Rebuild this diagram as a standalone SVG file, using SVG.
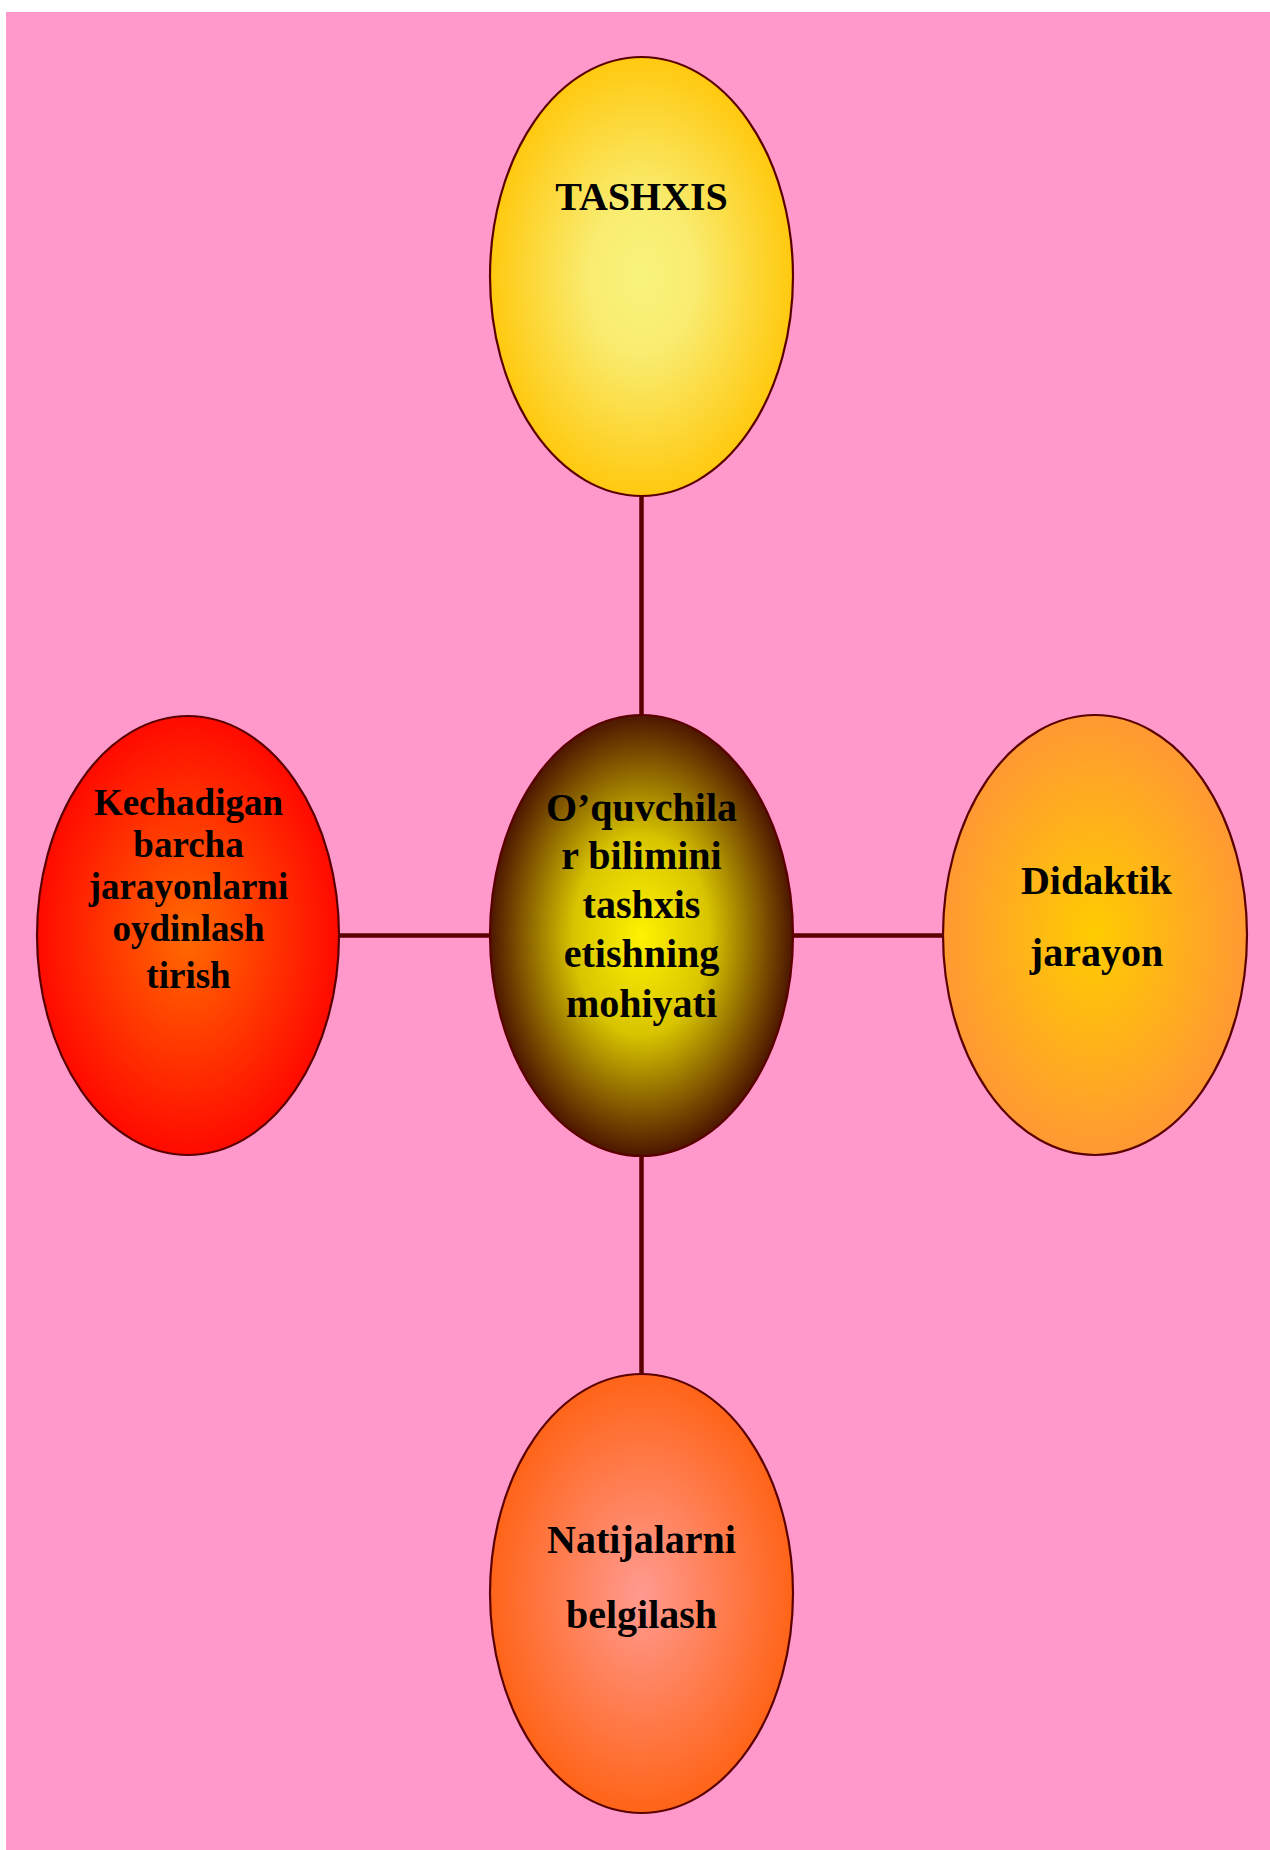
<svg xmlns="http://www.w3.org/2000/svg" width="1270" height="1850" viewBox="0 0 1270 1850">
<style>
.node{stroke:#5a0000;stroke-width:2.2}
.conn{stroke:#5a0000;stroke-width:4.5;fill:none}
text{font-family:"Liberation Serif","Times New Roman",serif;font-weight:bold;fill:#000;text-anchor:middle}
.t40{font-size:40px}
.t37{font-size:37px}
</style>
<defs>
<radialGradient id="gTop" cx="50%" cy="50%" r="50%">
<stop offset="0" stop-color="#f8f47c"/>
<stop offset="0.35" stop-color="#f9ec70"/>
<stop offset="1" stop-color="#ffc90f"/>
</radialGradient>
<radialGradient id="gLeft" cx="50%" cy="50%" r="50%">
<stop offset="0" stop-color="#ff6a00"/>
<stop offset="1" stop-color="#ff0a00"/>
</radialGradient>
<radialGradient id="gCenter" cx="50%" cy="50%" r="50%">
<stop offset="0" stop-color="#fff200"/>
<stop offset="0.45" stop-color="#d8c400"/>
<stop offset="1" stop-color="#4d1600"/>
</radialGradient>
<radialGradient id="gRight" cx="50%" cy="50%" r="50%">
<stop offset="0" stop-color="#ffcc00"/>
<stop offset="1" stop-color="#ff9933"/>
</radialGradient>
<radialGradient id="gBottom" cx="50%" cy="50%" r="50%">
<stop offset="0" stop-color="#ff9a90"/>
<stop offset="1" stop-color="#ff6418"/>
</radialGradient>
</defs>
<rect x="0" y="0" width="1270" height="1850" fill="#ffffff"/>
<rect x="6" y="12" width="1264" height="1838" fill="#ff99cc"/>
<g id="connectors">
<line class="conn" x1="641.5" y1="496" x2="641.5" y2="715"/>
<line class="conn" x1="641.5" y1="1156" x2="641.5" y2="1374"/>
<line class="conn" x1="339" y1="935.5" x2="490" y2="935.5"/>
<line class="conn" x1="793" y1="935.5" x2="943" y2="935.5"/>
</g>
<g id="node-top">
<ellipse class="node" cx="641.5" cy="276.5" rx="151.5" ry="219.5" fill="url(#gTop)"/>
<text class="t40" x="641.5" y="210">TASHXIS</text>
</g>
<g id="node-left">
<ellipse class="node" cx="188" cy="935.5" rx="151" ry="219.5" fill="url(#gLeft)"/>
<text class="t37" x="188.5" y="815">Kechadigan</text>
<text class="t37" x="188.5" y="857">barcha</text>
<text class="t37" x="188.5" y="899">jarayonlarni</text>
<text class="t37" x="188.5" y="941">oydinlash</text>
<text class="t37" x="188.5" y="988">tirish</text>
</g>
<g id="node-center">
<ellipse class="node" cx="641.5" cy="935.5" rx="151.5" ry="220.5" fill="url(#gCenter)"/>
<text class="t40" x="641.5" y="821">O’quvchila</text>
<text class="t40" x="641.5" y="869">r bilimini</text>
<text class="t40" x="641.5" y="918">tashxis</text>
<text class="t40" x="641.5" y="967">etishning</text>
<text class="t40" x="641.5" y="1017">mohiyati</text>
</g>
<g id="node-right">
<ellipse class="node" cx="1095" cy="935" rx="152" ry="220" fill="url(#gRight)"/>
<text class="t40" x="1096.5" y="894">Didaktik</text>
<text class="t40" x="1096.5" y="966">jarayon</text>
</g>
<g id="node-bottom">
<ellipse class="node" cx="641.5" cy="1593.5" rx="151.5" ry="219.5" fill="url(#gBottom)"/>
<text class="t40" x="641.5" y="1553">Natijalarni</text>
<text class="t40" x="641.5" y="1628">belgilash</text>
</g>
</svg>
